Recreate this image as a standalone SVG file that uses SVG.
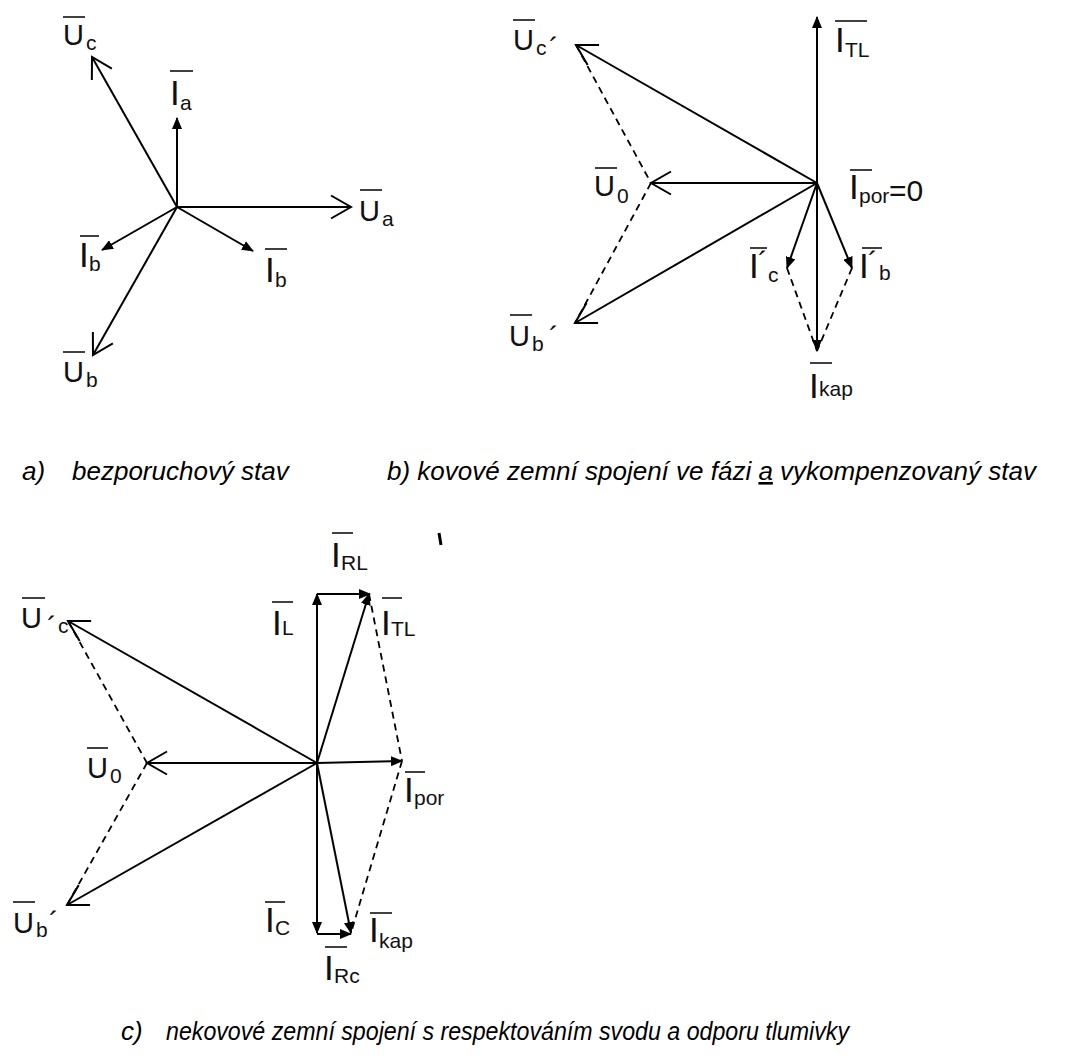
<svg xmlns="http://www.w3.org/2000/svg" width="1080" height="1056" viewBox="0 0 1080 1056">
<style>
.ln{stroke:#000;stroke-width:2;fill:none}
.ds{stroke:#000;stroke-width:1.8;stroke-dasharray:7 5;fill:none}
.ob{stroke:#111;stroke-width:1.6}
.u{font-family:"Liberation Sans",Arial,sans-serif;font-size:29px;fill:#111}
.i{font-family:"Liberation Sans",Arial,sans-serif;font-size:35px;fill:#111}
.s{font-family:"Liberation Sans",Arial,sans-serif;font-size:21px;fill:#111}
.cap{font-family:"Liberation Sans",Arial,sans-serif;font-size:26px;font-style:italic;fill:#000}
</style>
<defs>
<marker id="fa" viewBox="0 0 12 10" refX="11" refY="5" markerWidth="12" markerHeight="10" markerUnits="userSpaceOnUse" orient="auto"><path d="M0,0 L12,5 L0,10 z" fill="#000"/></marker>
<marker id="oa" viewBox="-22 -13 24 26" refX="0" refY="0" markerWidth="24" markerHeight="26" markerUnits="userSpaceOnUse" orient="auto"><path d="M-20,-11.5 L0,0 L-20,11.5" fill="none" stroke="#000" stroke-width="2"/></marker>
</defs>
<rect width="1080" height="1056" fill="#fff"/>

<g id="connectors">
<!-- diagram a -->
<line class="ln" x1="177" y1="207" x2="92" y2="57" marker-end="url(#oa)"/>
<line class="ln" x1="177" y1="207" x2="177" y2="118" marker-end="url(#fa)"/>
<line class="ln" x1="177" y1="207" x2="351" y2="207" marker-end="url(#oa)"/>
<line class="ln" x1="177" y1="207" x2="102" y2="250" marker-end="url(#fa)"/>
<line class="ln" x1="177" y1="207" x2="253" y2="251" marker-end="url(#fa)"/>
<line class="ln" x1="177" y1="207" x2="93" y2="355" marker-end="url(#oa)"/>
<!-- diagram b -->
<line class="ln" x1="817" y1="183" x2="817" y2="17" marker-end="url(#fa)"/>
<line class="ln" x1="817" y1="183" x2="576" y2="45" marker-end="url(#oa)"/>
<line class="ln" x1="817" y1="183" x2="651" y2="183" marker-end="url(#oa)"/>
<line class="ln" x1="817" y1="183" x2="575" y2="323" marker-end="url(#oa)"/>
<line class="ln" x1="817" y1="183" x2="787" y2="268" marker-end="url(#fa)"/>
<line class="ln" x1="817" y1="183" x2="852" y2="268" marker-end="url(#fa)"/>
<line class="ln" x1="817" y1="183" x2="817" y2="351" marker-end="url(#fa)"/>
<line class="ds" x1="576" y1="45" x2="651" y2="183"/>
<line class="ds" x1="651" y1="183" x2="575" y2="323"/>
<line class="ds" x1="787" y1="268" x2="817" y2="351"/>
<line class="ds" x1="852" y1="268" x2="817" y2="351"/>
<!-- diagram c -->
<line class="ln" x1="317" y1="763" x2="317" y2="594" marker-end="url(#fa)"/>
<line class="ln" x1="317" y1="594" x2="370" y2="594" marker-end="url(#fa)"/>
<line class="ln" x1="317" y1="763" x2="369" y2="594" marker-end="url(#fa)"/>
<line class="ln" x1="317" y1="763" x2="68" y2="621" marker-end="url(#oa)"/>
<line class="ln" x1="317" y1="763" x2="147" y2="763" marker-end="url(#oa)"/>
<line class="ln" x1="317" y1="763" x2="67" y2="905" marker-end="url(#oa)"/>
<line class="ln" x1="317" y1="763" x2="402" y2="761" marker-end="url(#fa)"/>
<line class="ln" x1="317" y1="763" x2="317" y2="933" marker-end="url(#fa)"/>
<line class="ln" x1="317" y1="934" x2="351" y2="934" marker-end="url(#fa)"/>
<line class="ln" x1="317" y1="763" x2="351" y2="933" marker-end="url(#fa)"/>
<line class="ds" x1="68" y1="621" x2="147" y2="763"/>
<line class="ds" x1="147" y1="763" x2="67" y2="905"/>
<line class="ds" x1="369" y1="594" x2="402" y2="761"/>
<line class="ds" x1="402" y1="761" x2="351" y2="933"/>
</g>

<!-- diagram a labels -->
<g id="a-Uc"><line class="ob" x1="63" y1="17" x2="85" y2="17"/><text class="u" x="63" y="45">U</text><text class="s" x="86" y="50">c</text></g>
<g id="a-Ia"><line class="ob" x1="170" y1="71" x2="193" y2="71"/><text class="i" x="170" y="105">I</text><text class="s" x="180" y="110">a</text></g>
<g id="a-Ua"><line class="ob" x1="360" y1="190" x2="382" y2="190"/><text class="u" x="359" y="221">U</text><text class="s" x="382" y="226">a</text></g>
<g id="a-Ib1"><line class="ob" x1="80" y1="236" x2="99" y2="236"/><text class="i" x="79" y="267">I</text><text class="s" x="89" y="271">b</text></g>
<g id="a-Ib2"><line class="ob" x1="265" y1="249" x2="287" y2="249"/><text class="i" x="265" y="282">I</text><text class="s" x="275" y="287">b</text></g>
<g id="a-Ub"><line class="ob" x1="63" y1="352" x2="85" y2="352"/><text class="u" x="63" y="382">U</text><text class="s" x="86" y="387">b</text></g>

<!-- diagram b labels -->
<g id="b-Uc"><line class="ob" x1="513" y1="20" x2="535" y2="20"/><text class="u" x="513" y="50">U</text><text class="s" x="536" y="55">c</text><text class="u" x="549" y="58">´</text></g>
<g id="b-ITL"><line class="ob" x1="835" y1="21" x2="867" y2="21"/><text class="i" x="835" y="52">I</text><text class="s" x="845" y="57">TL</text></g>
<g id="b-U0"><line class="ob" x1="595" y1="168" x2="617" y2="168"/><text class="u" x="594" y="196">U</text><text class="s" x="617" y="203">0</text></g>
<g id="b-Ipor"><line class="ob" x1="850" y1="170" x2="872" y2="170"/><text class="i" x="849" y="199">I</text><text class="s" x="859" y="203">por</text><text class="u" x="889" y="201" style="font-size:30px">=0</text></g>
<g id="b-Ub"><line class="ob" x1="510" y1="315" x2="532" y2="315"/><text class="u" x="509" y="346">U</text><text class="s" x="532" y="351">b</text><text class="u" x="549" y="347">´</text></g>
<g id="b-Ic"><line class="ob" x1="750" y1="248" x2="767" y2="248"/><text class="i" x="749" y="278">I</text><text class="u" x="758" y="272">´</text><text class="s" x="768" y="282">c</text></g>
<g id="b-Ib"><line class="ob" x1="862" y1="248" x2="882" y2="248"/><text class="i" x="859" y="278">I</text><text class="u" x="868" y="272">´</text><text class="s" x="879" y="280">b</text></g>
<g id="b-Ikap"><line class="ob" x1="810" y1="363" x2="832" y2="363"/><text class="i" x="809" y="398">I</text><text class="s" x="819" y="396">kap</text></g>

<!-- diagram c labels -->
<g id="c-IRL"><line class="ob" x1="332" y1="533" x2="353" y2="533"/><text class="i" x="331" y="567">I</text><text class="s" x="341" y="570">RL</text></g>
<g id="c-IL"><line class="ob" x1="272" y1="602" x2="293" y2="602"/><text class="i" x="272" y="635">I</text><text class="s" x="282" y="635">L</text></g>
<g id="c-ITL"><line class="ob" x1="382" y1="598" x2="402" y2="598"/><text class="i" x="381" y="635">I</text><text class="s" x="391" y="636">TL</text></g>
<g id="c-Uc"><line class="ob" x1="22" y1="598" x2="45" y2="598"/><text class="u" x="21" y="628">U</text><text class="u" x="47" y="637">´</text><text class="s" x="58" y="633">c</text></g>
<g id="c-U0"><line class="ob" x1="87" y1="748" x2="108" y2="748"/><text class="u" x="87" y="778">U</text><text class="s" x="110" y="783">0</text></g>
<g id="c-Ipor"><line class="ob" x1="405" y1="772" x2="425" y2="772"/><text class="i" x="404" y="802">I</text><text class="s" x="414" y="805">por</text></g>
<g id="c-Ub"><line class="ob" x1="13" y1="902" x2="35" y2="902"/><text class="u" x="13" y="933">U</text><text class="s" x="36" y="937">b</text><text class="u" x="49" y="932">´</text></g>
<g id="c-IC"><line class="ob" x1="265" y1="902" x2="285" y2="902"/><text class="i" x="265" y="932">I</text><text class="s" x="275" y="935">C</text></g>
<g id="c-Ikap"><line class="ob" x1="370" y1="913" x2="392" y2="913"/><text class="i" x="369" y="942">I</text><text class="s" x="379" y="948">kap</text></g>
<g id="c-IRc"><line class="ob" x1="325" y1="947" x2="347" y2="947"/><text class="i" x="324" y="980">I</text><text class="s" x="334" y="983">Rc</text></g>
<line x1="439" y1="533" x2="441" y2="545" stroke="#000" stroke-width="3"/>

<!-- captions -->
<g id="captions">
<text class="cap" x="22" y="480">a)</text>
<text class="cap" x="72" y="480">bezporuchový stav</text>
<text class="cap" x="387" y="480">b) kovové zemní spojení ve fázi <tspan text-decoration="underline">a</tspan> vykompenzovaný stav</text>
<text class="cap" x="121" y="1040">c)</text>
<text class="cap" x="166" y="1040" textLength="683" lengthAdjust="spacingAndGlyphs">nekovové zemní spojení s respektováním svodu a odporu tlumivky</text>
</g>
</svg>
